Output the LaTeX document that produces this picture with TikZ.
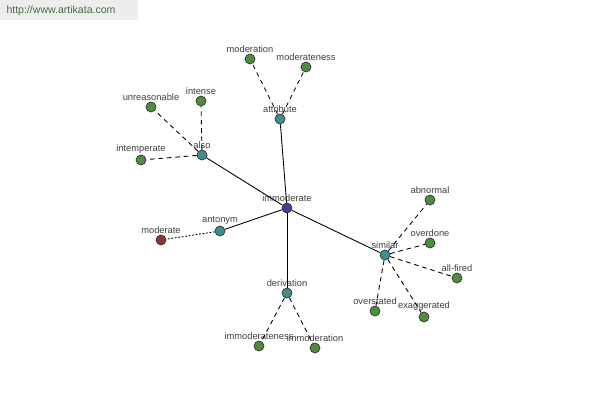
\documentclass[tikz,border=0pt]{standalone}
\usepackage{fontspec}
\setmainfont{Liberation Sans}
\usepackage{tikz}
\usetikzlibrary{positioning}

\definecolor{leafgreen}{HTML}{4E8C3F}
\definecolor{hubteal}{HTML}{3F8F8F}
\definecolor{rootblue}{HTML}{3D4590}
\definecolor{antred}{HTML}{8C3636}
\definecolor{txtgray}{HTML}{404040}
\definecolor{sitegreen}{HTML}{4A6A4A}

\tikzset{
  every label/.style={inner sep=0.5pt, text=txtgray, font=\fontsize{5.3}{6}\selectfont},
  word/.style={circle, draw=black!80, line width=0.4pt, minimum size=0.2cm, inner sep=0pt,
    label distance=0.3pt},
  leaf/.style={word, fill=leafgreen},
  hub/.style={word, fill=hubteal},
  rel/.style={line width=0.5pt},
  syn/.style={line width=0.5pt, dash pattern=on 2.6pt off 2.2pt},
  ant/.style={line width=0.5pt, dash pattern=on 1pt off 1pt}
}

\begin{document}
\begin{tikzpicture}[x=0.02cm, y=-0.02cm]
  \useasboundingbox (0,0) rectangle (600,400);
  % watermark
  \fill[black!7] (0,0) rectangle (138,20);
  \node[text=sitegreen, font=\fontsize{6}{7}\selectfont] (site) at (61,11) {http://www.artikata.com};

  % centre and relation hubs
  \node[word, fill=rootblue, label=above:immoderate] (immod) at (287,208) {};
  \node[hub, label=above:attribute] (attr) at (280,119) {};
  \node[hub, label=above:also] (also) at (202,155) {};
  \node[hub, label=above:antonym] (anto) at (220,231) {};
  \node[hub, label=above:similar] (simi) at (385,255) {};
  \node[hub, label=above:derivation] (deri) at (287,293) {};

  % leaves
  \node[leaf, label=above:moderation] (moderation) at (250,59) {};
  \node[leaf, label=above:moderateness] (moderateness) at (306,67) {};
  \node[leaf, label=above:unreasonable] (unreas) at (151,107) {};
  \node[leaf, label=above:intense] (intense) at (201,101) {};
  \node[leaf, label=above:intemperate] (intemp) at (141,160) {};
  \node[word, fill=antred, label=above:moderate] (moderate) at (161,240) {};
  \node[leaf, label=above:abnormal] (abnormal) at (430,200) {};
  \node[leaf, label=above:overdone] (overdone) at (430,243) {};
  \node[leaf, label=above:all-fired] (allfired) at (457,278) {};
  \node[leaf, label=above:overstated] (overstated) at (375,311) {};
  \node[leaf, label=above:exaggerated] (exagg) at (424,317) {};
  \node[leaf, label=above:immoderateness] (immodness) at (259,346) {};
  \node[leaf, label=above:immoderation] (immodtion) at (315,348) {};

  % connectors
  \foreach \h in {attr, also, anto, simi, deri}
    \draw[rel] (immod) -- (\h);
  \foreach \l in {moderation, moderateness}
    \draw[syn] (attr) -- (\l);
  \foreach \l in {unreas, intense, intemp}
    \draw[syn] (also) -- (\l);
  \foreach \l in {abnormal, overdone, allfired, overstated, exagg}
    \draw[syn] (simi) -- (\l);
  \foreach \l in {immodness, immodtion}
    \draw[syn] (deri) -- (\l);
  \draw[ant] (anto) -- (moderate);
\end{tikzpicture}
\end{document}
